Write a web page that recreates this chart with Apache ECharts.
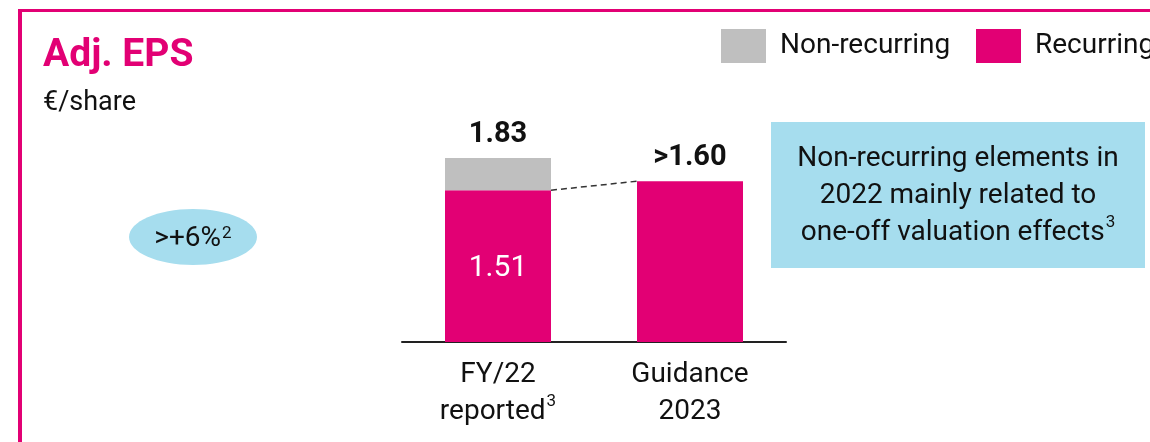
<!DOCTYPE html>
<html>
<head>
<meta charset="utf-8">
<script src="https://cdn.jsdelivr.net/npm/echarts@6/dist/echarts.min.js"></script>
<style>
html,body{margin:0;padding:0;background:#fff;}
#main{width:1150px;height:442px;}
</style>
</head>
<body>
<div id="main"></div>
<script>
// data
var categories = ['FY/22\nreported³', 'Guidance\n2023'];
var recurring = [1.51, 1.60];
var nonRecurring = [0.32, 0];
var totalLabels = ['1.83', '>1.60'];
var innerLabels = ['1.51', ''];

var magenta = '#E20074';
var grey = '#BFBFBF';
var lightBlue = '#A6DDEE';
var font = 'Roboto';

// superscript digits -> rich text
function supText(s) {
  return s.replace('³', '{sup|3}').replace('²', '{sup|2}');
}
var supRich = {
  sup: { fontSize: 17, verticalAlign: 'top', color: '#111', fontFamily: font, padding: [0, 0, 8, 1] }
};

var legendBase = {
  top: 24,
  itemWidth: 45,
  itemHeight: 34,
  icon: 'rect',
  textStyle: { fontSize: 28, color: '#111', fontFamily: font, padding: [0, 0, 0, 9] }
};

var myChart = echarts.init(document.getElementById('main'));

var option = {
  animation: false,
  textStyle: { fontFamily: font },
  title: {
    text: 'Adj. EPS',
    subtext: '€/share',
    left: 38,
    top: 32,
    itemGap: 14,
    textStyle: { color: magenta, fontSize: 39, fontWeight: 'bold', fontFamily: font },
    subtextStyle: { color: '#111', fontSize: 27, fontFamily: font }
  },
  // legend cut by the right edge like the slide, so two separate pieces
  legend: [
    Object.assign({}, legendBase, { left: 716, data: ['Non-recurring'] }),
    Object.assign({}, legendBase, { left: 971, data: ['Recurring'] })
  ],
  grid: { left: 402, width: 384, top: 141, height: 201 },
  xAxis: {
    type: 'category',
    data: categories,
    axisTick: { show: false },
    axisLine: { lineStyle: { color: '#222', width: 2 } },
    axisLabel: {
      interval: 0,
      color: '#111',
      fontSize: 28,
      lineHeight: 37,
      margin: 14,
      fontFamily: font,
      formatter: function (v) { return supText(v); },
      rich: supRich
    }
  },
  yAxis: {
    type: 'value',
    min: 0,
    max: 2,
    show: false
  },
  series: [
    {
      name: 'Recurring',
      type: 'bar',
      stack: 'eps',
      barWidth: 106,
      itemStyle: { color: magenta },
      label: {
        show: true,
        position: 'inside',
        color: '#fff',
        fontSize: 30,
        fontFamily: font,
        offset: [0, 2],
        formatter: function (p) { return innerLabels[p.dataIndex]; }
      },
      data: recurring
    },
    {
      name: 'Non-recurring',
      type: 'bar',
      stack: 'eps',
      barWidth: 106,
      itemStyle: { color: grey },
      label: {
        show: true,
        position: 'top',
        distance: 9,
        color: '#111',
        fontSize: 29,
        fontWeight: 'bold',
        fontFamily: font,
        formatter: function (p) { return totalLabels[p.dataIndex]; }
      },
      data: nonRecurring
    }
  ]
};

myChart.setOption(option);

// dashed connector from recurring top of bar 1 to top of bar 2 (bar edges)
var p1 = myChart.convertToPixel({ gridIndex: 0 }, [0, recurring[0]]);
var p2 = myChart.convertToPixel({ gridIndex: 0 }, [1, recurring[1]]);
var half = 53;

myChart.setOption({
  graphic: [
    // frame
    { type: 'line', shape: { x1: 20, y1: 10.5, x2: 1150, y2: 10.5 }, style: { stroke: magenta, lineWidth: 3 } },
    { type: 'line', shape: { x1: 20, y1: 9, x2: 20, y2: 442 }, style: { stroke: magenta, lineWidth: 4 } },
    {
      type: 'line',
      shape: { x1: p1[0] + half, y1: p1[1], x2: p2[0] - half, y2: p2[1] },
      style: { stroke: '#333', lineWidth: 1.5, lineDash: [6, 4] },
      z: 10
    },
    // growth bubble
    {
      type: 'ellipse',
      shape: { cx: 193, cy: 237, rx: 64, ry: 28 },
      style: { fill: lightBlue }
    },
    {
      type: 'text',
      x: 193,
      y: 239,
      style: {
        text: '>+6%{sup|2}',
        fill: '#111',
        fontSize: 28,
        fontFamily: font,
        align: 'center',
        verticalAlign: 'middle',
        rich: supRich
      }
    },
    // note box
    {
      type: 'rect',
      shape: { x: 771, y: 122, width: 374, height: 146 },
      style: { fill: lightBlue }
    },
    {
      type: 'text',
      x: 958,
      y: 196,
      style: {
        text: 'Non-recurring elements in\n2022 mainly related to\none-off valuation effects{sup|3}',
        fill: '#111',
        fontSize: 28,
        fontFamily: font,
        lineHeight: 37,
        align: 'center',
        verticalAlign: 'middle',
        rich: supRich
      }
    }
  ]
});

window.addEventListener('resize', function () {
  myChart.resize();
});
</script>
</body>
</html>
